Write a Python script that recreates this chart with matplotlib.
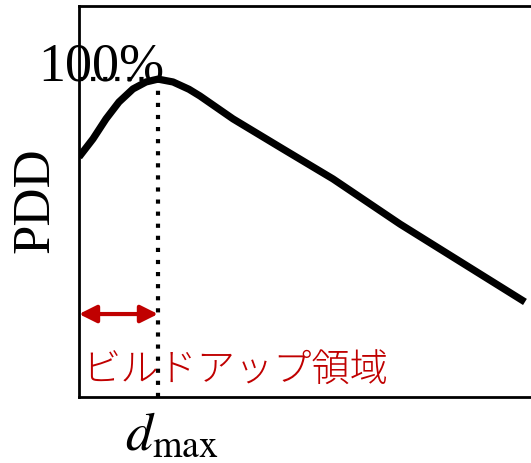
import numpy as np
from matplotlib import pyplot as plt

plt.rcParams['mathtext.fontset'] = 'stix'

# depth (arbitrary units) and PDD (%)
depth = [0.0, 0.91, 1.76, 2.60, 3.51, 4.36, 5.14, 6.12, 7.16, 7.87, 10.02,
         13.28, 16.53, 20.89, 29.02]
pdd = [75.5, 81.2, 87.5, 92.8, 96.9, 99.1, 100.0, 99.1, 96.8, 94.7, 87.5,
       78.0, 68.6, 54.4, 29.9]
d_max = 5.14
arrow_level = 26.1

red = '#C00000'

fig = plt.figure(figsize=(5.31, 4.64), dpi=100)
ax = fig.add_axes([79/531, 66/464, 461/531, 391/464])
ax.set_xlim(0, 30)
ax.set_ylim(0, 123)
ax.set_xticks([])
ax.set_yticks([])
for s in ax.spines.values():
  s.set_linewidth(2.0)

# dotted guides to the maximum
ax.plot([0, d_max], [100, 100], color='k', lw=3.0, dashes=(1, 1.9), solid_capstyle='butt')
ax.plot([d_max, d_max], [0, 100], color='k', lw=3.0, dashes=(1, 1.9), solid_capstyle='butt')

# depth dose curve
ax.plot(depth, pdd, color='k', lw=5.2, solid_capstyle='butt', solid_joinstyle='round')

# build-up region arrow
ax.annotate('', xy=(0, arrow_level), xytext=(d_max, arrow_level),
  arrowprops=dict(arrowstyle='<|-|>', color=red, lw=3.0, mutation_scale=26,
                  shrinkA=0, shrinkB=0))
ax.text(0.2, 8.5, 'ビルドアップ領域', color=red, fontsize=27.5,
  family=['Noto Sans CJK JP', 'DejaVu Sans'], fontweight='light',
  ha='left', va='center')

# labels
ax.text(-2.67, 100, '100%', fontsize=39, family='Liberation Serif',
  ha='left', va='baseline', clip_on=False)
ax.text(-2.86, 62.3, 'PDD', fontsize=38, family='Liberation Serif',
  rotation=90, ha='center', va='center', clip_on=False)
ax.text(6.05, -16.4, r'$d_{\mathrm{max}}$', fontsize=39,
  ha='center', va='baseline', clip_on=False)

fig.savefig('out.png', dpi=100)
